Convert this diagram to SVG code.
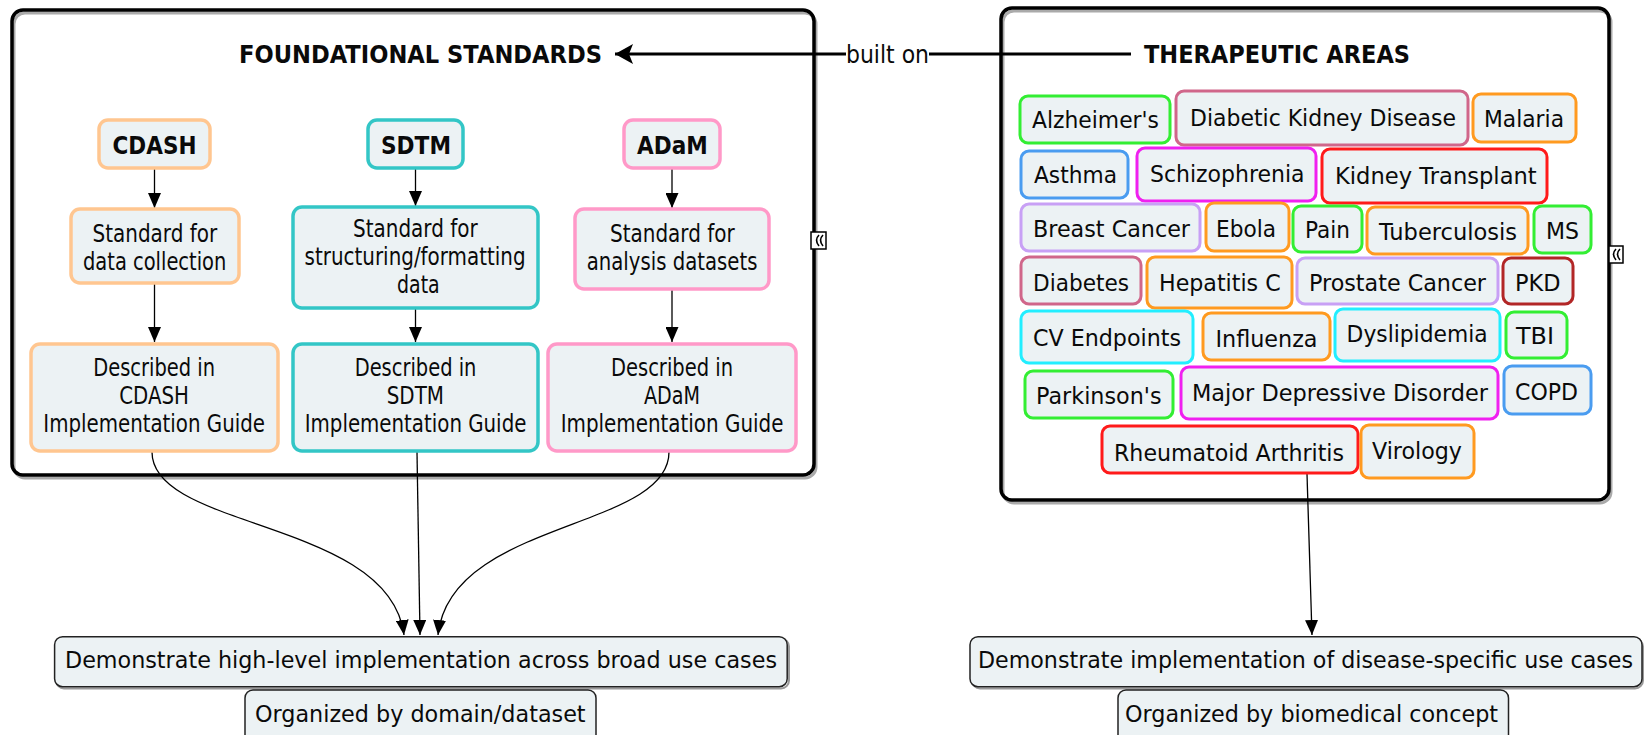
<svg xmlns="http://www.w3.org/2000/svg" width="1646" height="735" viewBox="0 0 1646 735">
<defs>
<style>
text{font-family:"DejaVu Sans","Verdana","Liberation Sans",sans-serif;fill:#0a0a0a;}
.t{font-size:24px;}
.g{font-size:23.5px;}
.b{font-size:24.5px;font-weight:bold;}
.s{font-size:23px;}
.node{fill:#ECF2F4;stroke-width:3.5;}
.tag{fill:#ECF2F4;stroke-width:3;}
.cont{fill:none;stroke:#000;stroke-width:3.5;}
.shadow{fill:none;stroke:#aaa;stroke-width:3;}
.bot{fill:#ECF2F4;stroke:#222;stroke-width:1.5;}
.bshadow{fill:none;stroke:#999;stroke-width:2;}
.conn{fill:none;stroke:#000;stroke-width:1.3;}
.peach{stroke:#FFC690;}.teal{stroke:#33C6C6;}.pink{stroke:#FF99C8;}
.green{stroke:#33EE33;}.rose{stroke:#D0668A;}.orange{stroke:#FF9A20;}
.blue{stroke:#4A9CF0;}.magenta{stroke:#F020F0;}.red{stroke:#FF1A1A;}
.lav{stroke:#C8A0F5;}.dred{stroke:#B22626;}.cyan{stroke:#22EEFF;}
</style>
<marker id="ah" markerUnits="userSpaceOnUse" markerWidth="16" markerHeight="13" refX="15" refY="6.5" orient="auto">
<path d="M0,0 L15,6.5 L0,13 z" fill="#000"/>
</marker>
<marker id="ahBig" markerUnits="userSpaceOnUse" markerWidth="19" markerHeight="20" refX="18" refY="10" orient="auto">
<path d="M0,0 L18,10 L0,20 L4,10 z" fill="#000"/>
</marker>
</defs>

<!-- containers -->
<g id="foundational-standards">
<rect class="shadow" x="14" y="13" width="802" height="465" rx="11"/>
<rect class="cont" x="12" y="10" width="802" height="465" rx="11"/>
<text class="b" x="239" y="63" textLength="363" lengthAdjust="spacingAndGlyphs">FOUNDATIONAL STANDARDS</text>
<g id="collapse-left">
<rect x="811" y="232" width="15" height="17" fill="#fff" stroke="#000" stroke-width="1.5"/>
<path d="M819,235 q-5,5 0,11 M823,235 q-5,5 0,11" fill="none" stroke="#000" stroke-width="1.6"/>
</g>
</g>

<g id="therapeutic-areas">
<rect class="shadow" x="1003" y="11" width="608" height="492" rx="11"/>
<rect class="cont" x="1001" y="8" width="608" height="492" rx="11"/>
<text class="b" x="1144" y="63" textLength="266" lengthAdjust="spacingAndGlyphs">THERAPEUTIC AREAS</text>
<g id="collapse-right">
<rect x="1609" y="246" width="14" height="17" fill="#fff" stroke="#000" stroke-width="1.5"/>
<path d="M1616,249 q-5,5 0,11 M1620,249 q-5,5 0,11" fill="none" stroke="#000" stroke-width="1.6"/>
</g>
</g>

<!-- connectors -->
<g id="connectors">
<line x1="1131" y1="54" x2="929" y2="54" stroke="#000" stroke-width="3"/>
<line x1="846" y1="54" x2="615" y2="54" stroke="#000" stroke-width="3" marker-end="url(#ahBig)"/>
<text class="t" x="846" y="63" textLength="83" lengthAdjust="spacingAndGlyphs">built on</text>

<line class="conn" x1="154.5" y1="168" x2="154.5" y2="208" marker-end="url(#ah)"/>
<line class="conn" x1="154.5" y1="283" x2="154.5" y2="342" marker-end="url(#ah)"/>
<line class="conn" x1="415.5" y1="168" x2="415.5" y2="206" marker-end="url(#ah)"/>
<line class="conn" x1="415.5" y1="308" x2="415.5" y2="342" marker-end="url(#ah)"/>
<line class="conn" x1="672" y1="168" x2="672" y2="208" marker-end="url(#ah)"/>
<line class="conn" x1="672" y1="289" x2="672" y2="342" marker-end="url(#ah)"/>

<path class="conn" d="M152,452 C152,530 390,520 404,635" marker-end="url(#ah)"/>
<path class="conn" d="M417,452 L420,635" marker-end="url(#ah)"/>
<path class="conn" d="M669,452 C669,530 450,520 438,635" marker-end="url(#ah)"/>
<path class="conn" d="M1307,474 L1312,635" marker-end="url(#ah)"/>
</g>

<!-- foundational nodes -->
<g id="cdash">
<rect class="node peach" x="99" y="120" width="111" height="48" rx="9"/>
<text class="b" x="112.5" y="153.5" textLength="84" lengthAdjust="spacingAndGlyphs">CDASH</text>
</g>
<g id="sdtm">
<rect class="node teal" x="368" y="120" width="95" height="48" rx="9"/>
<text class="b" x="381" y="153.5" textLength="70" lengthAdjust="spacingAndGlyphs">SDTM</text>
</g>
<g id="adam">
<rect class="node pink" x="624" y="120" width="96" height="48" rx="9"/>
<text class="b" x="637" y="153.5" textLength="70.7" lengthAdjust="spacingAndGlyphs">ADaM</text>
</g>

<g id="cdash-standard">
<rect class="node peach" x="71" y="209" width="168" height="74" rx="9"/>
<text class="t" x="92.5" y="241.5" textLength="124.7" lengthAdjust="spacingAndGlyphs">Standard for</text>
<text class="t" x="83" y="269.5" textLength="143.3" lengthAdjust="spacingAndGlyphs">data collection</text>
</g>
<g id="sdtm-standard">
<rect class="node teal" x="293" y="207" width="245" height="101" rx="9"/>
<text class="t" x="353" y="237" textLength="124.7" lengthAdjust="spacingAndGlyphs">Standard for</text>
<text class="t" x="304.6" y="265" textLength="221" lengthAdjust="spacingAndGlyphs">structuring/formatting</text>
<text class="t" x="397" y="293" textLength="42.7" lengthAdjust="spacingAndGlyphs">data</text>
</g>
<g id="adam-standard">
<rect class="node pink" x="575" y="209" width="194" height="80" rx="9"/>
<text class="t" x="610" y="242" textLength="124.7" lengthAdjust="spacingAndGlyphs">Standard for</text>
<text class="t" x="586.7" y="270" textLength="170.7" lengthAdjust="spacingAndGlyphs">analysis datasets</text>
</g>

<g id="cdash-guide">
<rect class="node peach" x="31" y="344" width="247" height="107" rx="9"/>
<text class="t" x="93.3" y="376" textLength="121.7" lengthAdjust="spacingAndGlyphs">Described in</text>
<text class="t" x="119.3" y="404" textLength="69.7" lengthAdjust="spacingAndGlyphs">CDASH</text>
<text class="t" x="43.3" y="432" textLength="221.7" lengthAdjust="spacingAndGlyphs">Implementation Guide</text>
</g>
<g id="sdtm-guide">
<rect class="node teal" x="293" y="344" width="245" height="107" rx="9"/>
<text class="t" x="354.7" y="376" textLength="121.7" lengthAdjust="spacingAndGlyphs">Described in</text>
<text class="t" x="386.7" y="404" textLength="57.3" lengthAdjust="spacingAndGlyphs">SDTM</text>
<text class="t" x="304.7" y="432" textLength="221.7" lengthAdjust="spacingAndGlyphs">Implementation Guide</text>
</g>
<g id="adam-guide">
<rect class="node pink" x="548" y="344" width="248" height="107" rx="9"/>
<text class="t" x="611" y="376" textLength="122" lengthAdjust="spacingAndGlyphs">Described in</text>
<text class="t" x="644" y="404" textLength="56" lengthAdjust="spacingAndGlyphs">ADaM</text>
<text class="t" x="560.7" y="432" textLength="222.7" lengthAdjust="spacingAndGlyphs">Implementation Guide</text>
</g>

<!-- therapeutic area tags -->
<g id="tag-alzheimers"><rect class="tag green" x="1020" y="96" width="150" height="47" rx="8"/><text class="g" x="1032" y="128" textLength="127" lengthAdjust="spacingAndGlyphs">Alzheimer's</text></g>
<g id="tag-dkd"><rect class="tag rose" x="1176" y="91" width="292" height="54" rx="8"/><text class="g" x="1190" y="125.5" textLength="266" lengthAdjust="spacingAndGlyphs">Diabetic Kidney Disease</text></g>
<g id="tag-malaria"><rect class="tag orange" x="1473" y="94" width="103" height="48" rx="8"/><text class="g" x="1484" y="126.5" textLength="80" lengthAdjust="spacingAndGlyphs">Malaria</text></g>

<g id="tag-asthma"><rect class="tag blue" x="1021" y="151" width="107" height="47" rx="8"/><text class="g" x="1034" y="183" textLength="83" lengthAdjust="spacingAndGlyphs">Asthma</text></g>
<g id="tag-schizophrenia"><rect class="tag magenta" x="1137" y="148" width="179" height="53" rx="8"/><text class="g" x="1150" y="181.5" textLength="154.5" lengthAdjust="spacingAndGlyphs">Schizophrenia</text></g>
<g id="tag-kidney-transplant"><rect class="tag red" x="1322" y="149" width="225" height="54" rx="8"/><text class="g" x="1335" y="183.5" textLength="201.7" lengthAdjust="spacingAndGlyphs">Kidney Transplant</text></g>

<g id="tag-breast-cancer"><rect class="tag lav" x="1021" y="204" width="179" height="47" rx="8"/><text class="g" x="1033" y="236.5" textLength="157" lengthAdjust="spacingAndGlyphs">Breast Cancer</text></g>
<g id="tag-ebola"><rect class="tag orange" x="1206" y="203" width="83" height="48" rx="8"/><text class="g" x="1216" y="236.5" textLength="60" lengthAdjust="spacingAndGlyphs">Ebola</text></g>
<g id="tag-pain"><rect class="tag green" x="1293" y="206" width="69" height="46" rx="8"/><text class="g" x="1305" y="237.5" textLength="45" lengthAdjust="spacingAndGlyphs">Pain</text></g>
<g id="tag-tuberculosis"><rect class="tag orange" x="1367" y="207" width="161" height="47" rx="8"/><text class="g" x="1379" y="239.5" textLength="138" lengthAdjust="spacingAndGlyphs">Tuberculosis</text></g>
<g id="tag-ms"><rect class="tag green" x="1534" y="206" width="57" height="47" rx="8"/><text class="g" x="1546" y="238.5" textLength="33" lengthAdjust="spacingAndGlyphs">MS</text></g>

<g id="tag-diabetes"><rect class="tag rose" x="1021" y="257" width="120" height="47" rx="8"/><text class="g" x="1033" y="290.5" textLength="96" lengthAdjust="spacingAndGlyphs">Diabetes</text></g>
<g id="tag-hepatitis-c"><rect class="tag orange" x="1147" y="257" width="145" height="51" rx="8"/><text class="g" x="1159" y="290.5" textLength="121.6" lengthAdjust="spacingAndGlyphs">Hepatitis C</text></g>
<g id="tag-prostate-cancer"><rect class="tag lav" x="1297" y="258" width="201" height="46" rx="8"/><text class="g" x="1309" y="290.5" textLength="177" lengthAdjust="spacingAndGlyphs">Prostate Cancer</text></g>
<g id="tag-pkd"><rect class="tag dred" x="1503" y="258" width="70" height="46" rx="8"/><text class="g" x="1515" y="290.5" textLength="45.5" lengthAdjust="spacingAndGlyphs">PKD</text></g>

<g id="tag-cv-endpoints"><rect class="tag cyan" x="1021" y="311" width="172" height="52" rx="8"/><text class="g" x="1033" y="345.5" textLength="148" lengthAdjust="spacingAndGlyphs">CV Endpoints</text></g>
<g id="tag-influenza"><rect class="tag orange" x="1203" y="313" width="127" height="47" rx="8"/><text class="g" x="1215.5" y="347" textLength="102" lengthAdjust="spacingAndGlyphs">Influenza</text></g>
<g id="tag-dyslipidemia"><rect class="tag cyan" x="1335" y="309" width="165" height="52" rx="8"/><text class="g" x="1346.6" y="342" textLength="141" lengthAdjust="spacingAndGlyphs">Dyslipidemia</text></g>
<g id="tag-tbi"><rect class="tag green" x="1506" y="312" width="61" height="46" rx="8"/><text class="g" x="1516" y="343.5" textLength="38" lengthAdjust="spacingAndGlyphs">TBI</text></g>

<g id="tag-parkinsons"><rect class="tag green" x="1025" y="371" width="148" height="47" rx="8"/><text class="g" x="1036" y="403.5" textLength="125.6" lengthAdjust="spacingAndGlyphs">Parkinson's</text></g>
<g id="tag-mdd"><rect class="tag magenta" x="1181" y="367" width="317" height="52" rx="8"/><text class="g" x="1192" y="400.5" textLength="296" lengthAdjust="spacingAndGlyphs">Major Depressive Disorder</text></g>
<g id="tag-copd"><rect class="tag blue" x="1504" y="366" width="87" height="48" rx="8"/><text class="g" x="1515" y="400" textLength="63" lengthAdjust="spacingAndGlyphs">COPD</text></g>

<g id="tag-ra"><rect class="tag red" x="1102" y="426" width="256" height="47" rx="8"/><text class="g" x="1114" y="460.5" textLength="230" lengthAdjust="spacingAndGlyphs">Rheumatoid Arthritis</text></g>
<g id="tag-virology"><rect class="tag orange" x="1361" y="425" width="113" height="53" rx="8"/><text class="g" x="1372" y="458.5" textLength="90" lengthAdjust="spacingAndGlyphs">Virology</text></g>

<!-- bottom boxes -->
<g id="broad-use-cases">
<rect class="bshadow" x="56" y="638.5" width="733" height="50" rx="8"/>
<rect class="bot" x="54.6" y="636.7" width="732.6" height="50" rx="8"/>
<text class="s" x="65" y="668" textLength="712" lengthAdjust="spacingAndGlyphs">Demonstrate high-level implementation across broad use cases</text>
</g>
<g id="domain-dataset">
<rect class="bot" x="245" y="690" width="351" height="60" rx="8"/>
<text class="s" x="255" y="722" textLength="330.6" lengthAdjust="spacingAndGlyphs">Organized by domain/dataset</text>
</g>
<g id="disease-use-cases">
<rect class="bshadow" x="972" y="638.5" width="671" height="50" rx="8"/>
<rect class="bot" x="970" y="636.7" width="672" height="50" rx="8"/>
<text class="s" x="978" y="668" textLength="655" lengthAdjust="spacingAndGlyphs">Demonstrate implementation of disease-specific use cases</text>
</g>
<g id="biomedical-concept">
<rect class="bot" x="1118" y="690" width="390.5" height="60" rx="8"/>
<text class="s" x="1125" y="722" textLength="373" lengthAdjust="spacingAndGlyphs">Organized by biomedical concept</text>
</g>
</svg>
